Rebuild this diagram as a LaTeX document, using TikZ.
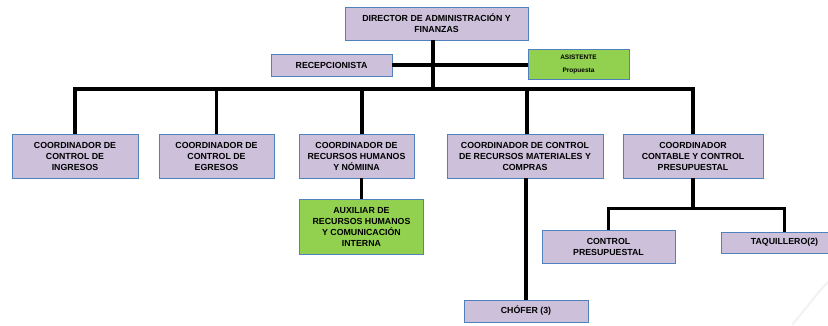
\documentclass[tikz,border=0pt]{standalone}
\usepackage{fontspec}
\setmainfont{Liberation Sans}
\definecolor{boxfill}{HTML}{CCC0DA}
\definecolor{boxdraw}{HTML}{4F81BD}
\definecolor{greenfill}{HTML}{92D050}
\begin{document}
\begin{tikzpicture}[x=1pt,y=-1pt,
  box/.style={draw=boxdraw, fill=boxfill, line width=0.8pt, align=center, inner sep=0pt,
    font=\fontsize{8.8}{11}\selectfont\bfseries},
  gbox/.style={box, fill=greenfill},
  conn/.style={line width=3.3pt, line join=miter}]
\useasboundingbox (0,0) rectangle (828,325);
% faint watermark swoosh
\draw[black!5, line width=2pt] (792,325) .. controls (808,306) and (818,292) .. (828,282);
% nodes
\node[box, minimum width=183pt, minimum height=33pt] (dir) at (436.5,23.5) {DIRECTOR DE ADMINISTRACIÓN Y\\FINANZAS};
\node[box, minimum width=121pt, minimum height=22pt] (rec) at (331.5,65) {RECEPCIONISTA};
\node[gbox, minimum width=101pt, minimum height=30pt, font=\fontsize{6.5}{13}\selectfont\bfseries] (asi) at (578.5,64) {ASISTENTE\\Propuesta};
\node[box, minimum width=126pt, minimum height=44pt] (c1) at (75,156) {COORDINADOR DE\\CONTROL DE\\INGRESOS};
\node[box, minimum width=115pt, minimum height=44pt] (c2) at (216.5,156) {COORDINADOR DE\\CONTROL DE\\EGRESOS};
\node[box, minimum width=115pt, minimum height=44pt] (c3) at (356.5,156) {COORDINADOR DE\\RECURSOS HUMANOS\\Y NÓMIINA};
\node[box, minimum width=156pt, minimum height=44pt] (c4) at (525,156) {COORDINADOR DE CONTROL\\DE RECURSOS MATERIALES Y\\COMPRAS};
\node[box, minimum width=140pt, minimum height=44pt] (c5) at (693,156) {COORDINADOR\\CONTABLE Y CONTROL\\PRESUPUESTAL};
\node[gbox, minimum width=124pt, minimum height=55pt] (aux) at (361.5,226.5) {AUXILIAR DE\\RECURSOS HUMANOS\\Y COMUNICACIÓN\\INTERNA};
\node[box, minimum width=133pt, minimum height=33pt] (cp) at (608.5,246.5) {CONTROL\\PRESUPUESTAL};
\node[box, minimum width=107pt, minimum height=21pt] (taq) at (774.5,242.5) {\hspace*{20pt}TAQUILLERO(2)};
\node[box, minimum width=124pt, minimum height=22pt] (cho) at (526,311) {CHÓFER (3)};
% connectors
\coordinate (j0) at (433,89);
\draw[conn] (dir.south -| j0) -- (j0);
\draw[conn] (rec.east) -- (rec.east -| asi.west);
\draw[conn] (c1.north) |- (j0) -| (c5.north);
\draw[conn] (c2.north) -- (c2.north |- j0);
\draw[conn] ([xshift=5.5pt]c3.north) -- ([xshift=5.5pt]c3.north |- j0);
\draw[conn] ([xshift=2pt]c4.north) -- ([xshift=2pt]c4.north |- j0);
\draw[conn] (aux.north) -- (aux.north |- c3.south);
\draw[conn] (cho.north) -- (cho.north |- c4.south);
\draw[conn] (c5.south) -- ++(0,30) coordinate (j1);
\draw[conn] (cp.north) |- (j1) -| ([xshift=10pt]taq.north);
\end{tikzpicture}
\end{document}
